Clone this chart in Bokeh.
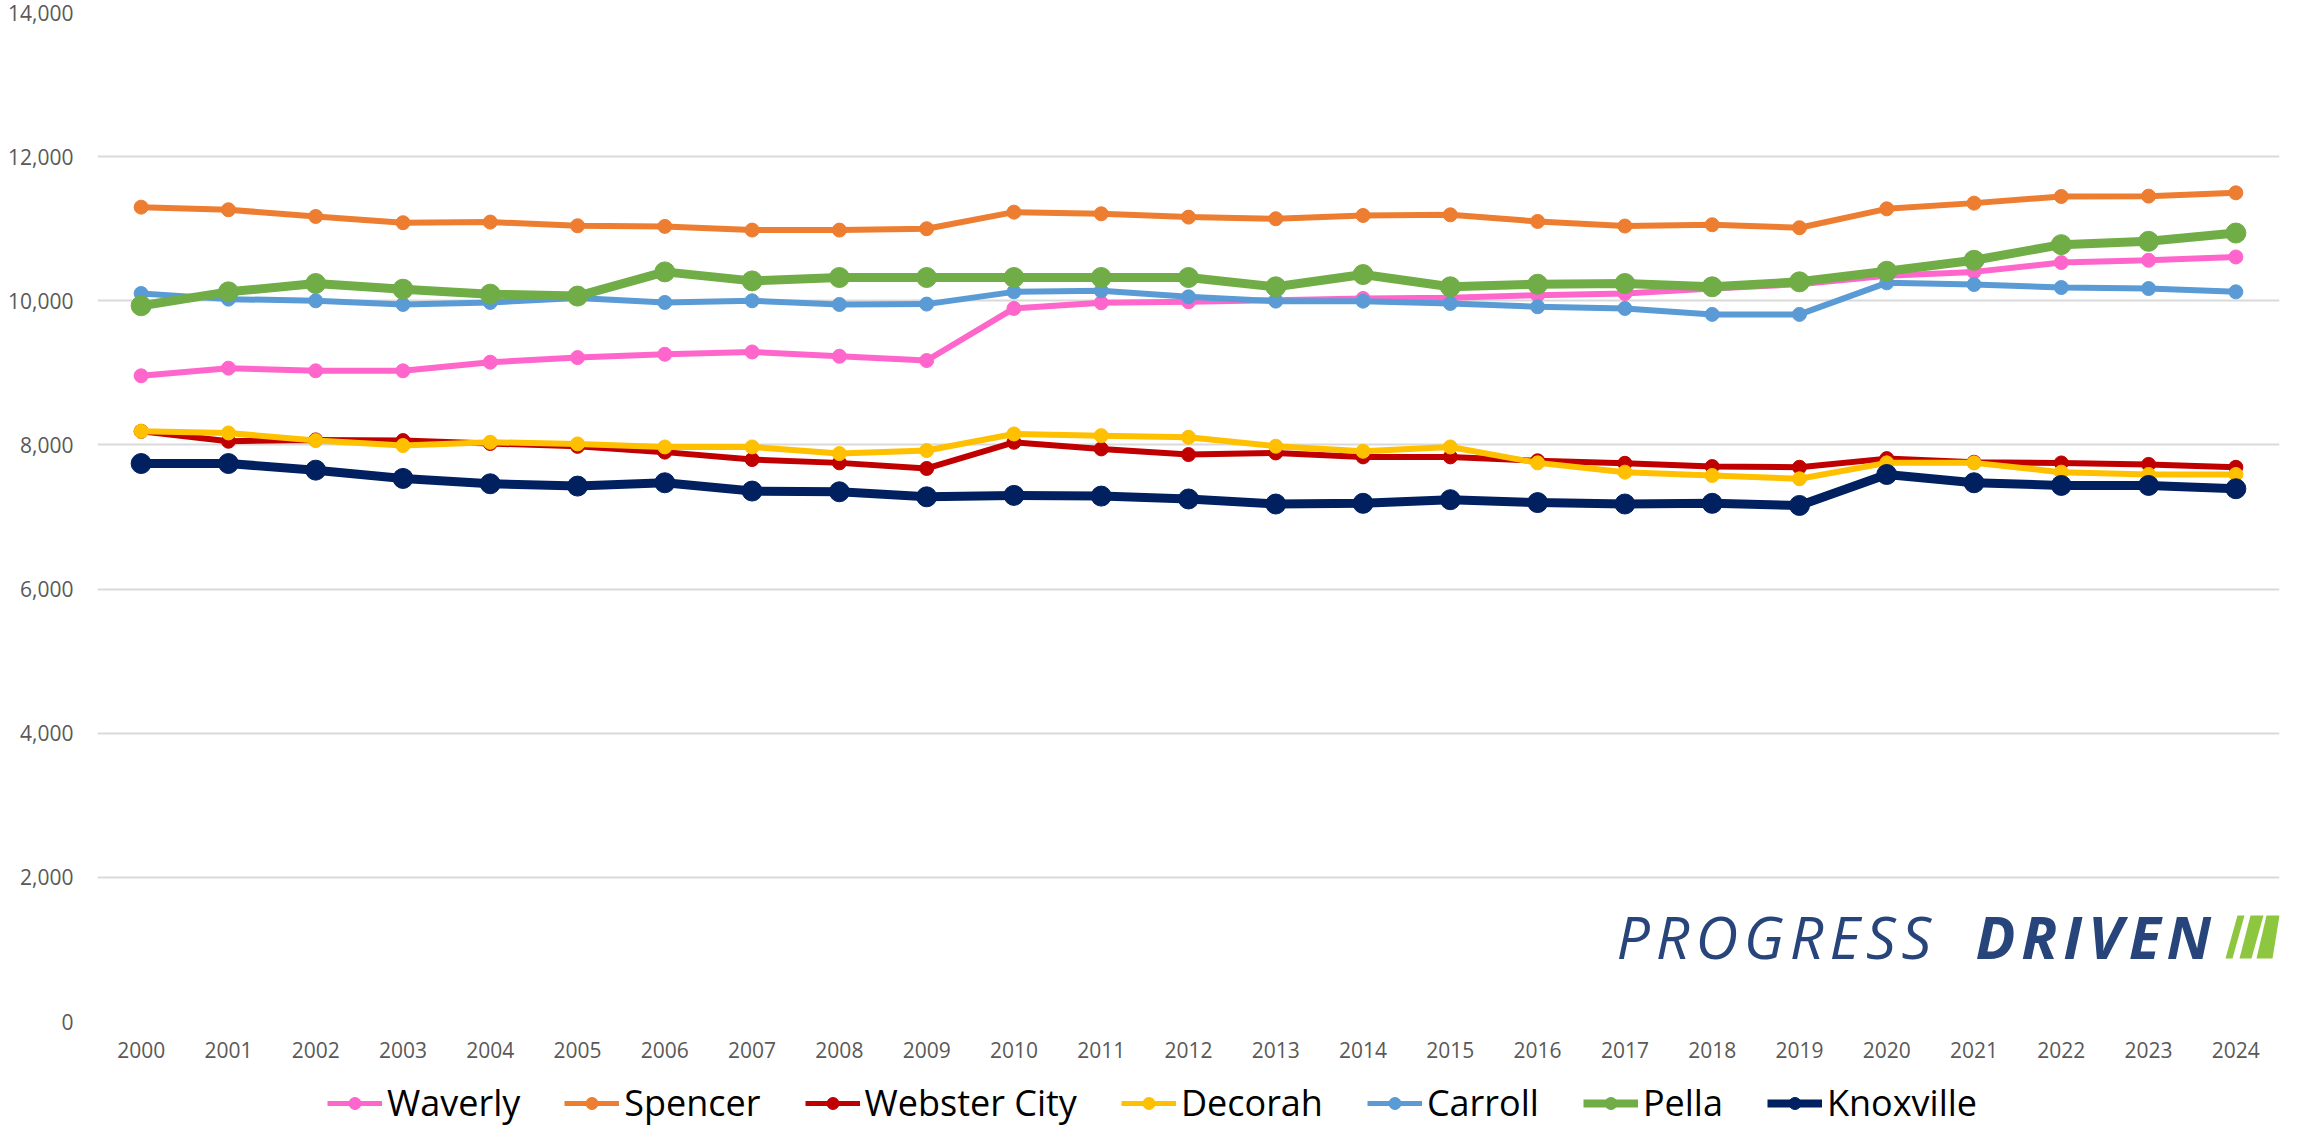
from bokeh.plotting import figure
from bokeh.layouts import column
from bokeh.models import (FactorRange, Range1d, NumeralTickFormatter, Legend, LegendItem,
                          Label, PolyAnnotation, SingleIntervalTicker)
from bokeh.embed import file_html
from bokeh.resources import INLINE

years = [str(y) for y in range(2000, 2025)]

waverly = [8959, 9065, 9028, 9028, 9148, 9212, 9258, 9290, 9230, 9171, 9894, 9972, 9986,
           10009, 10032, 10041, 10078, 10101, 10170, 10230, 10346, 10401, 10530, 10562, 10608]
spencer = [11299, 11263, 11170, 11083, 11092, 11041, 11032, 10981, 10981, 11000, 11230, 11207, 11161,
           11138, 11184, 11193, 11101, 11037, 11055, 11014, 11276, 11355, 11447, 11452, 11498]
webster_city = [8189, 8051, 8070, 8060, 8020, 7980, 7900, 7797, 7751, 7673, 8037, 7945, 7866,
                7889, 7834, 7834, 7780, 7745, 7700, 7690, 7810, 7760, 7750, 7730, 7690]
decorah = [8189, 8166, 8060, 7991, 8037, 8014, 7972, 7972, 7880, 7922, 8152, 8129, 8106,
           7982, 7912, 7972, 7751, 7622, 7576, 7530, 7751, 7751, 7622, 7590, 7590]
carroll = [10101, 10023, 10000, 9949, 9977, 10037, 9977, 10000, 9949, 9954, 10124, 10138, 10055,
           9995, 9995, 9963, 9917, 9894, 9811, 9811, 10249, 10226, 10184, 10170, 10124]
pella = [9931, 10124, 10240, 10161, 10092, 10065, 10401, 10276, 10323, 10323, 10323, 10323, 10323,
         10194, 10364, 10194, 10230, 10240, 10194, 10263, 10410, 10562, 10779, 10825, 10940]
knoxville = [7742, 7742, 7650, 7535, 7461, 7429, 7475, 7360, 7350, 7280, 7300, 7290, 7250,
             7180, 7190, 7240, 7200, 7180, 7190, 7160, 7590, 7475, 7438, 7438, 7392]

names = ["Waverly", "Spencer", "Webster City", "Decorah", "Carroll", "Pella", "Knoxville"]
values = [waverly, spencer, webster_city, decorah, carroll, pella, knoxville]
colors = ["#FF66CC", "#ED7D31", "#C00000", "#FFC000", "#5B9BD5", "#70AD47", "#002060"]
widths = [6, 6, 6, 6, 6, 9, 9]
sizes = [14, 14, 14, 14, 14, 20, 20]

W = 2285
LEG_H = 49

p = figure(width=W, height=1127 - LEG_H,
           x_range=FactorRange(*years), y_range=Range1d(0, 14000),
           output_backend="svg", toolbar_location=None,
           min_border_left=97, min_border_right=6, min_border_top=12,
           min_border_bottom=106 - LEG_H)
p.outline_line_color = None
p.background_fill_color = "white"

p.xgrid.grid_line_color = None
p.ygrid.grid_line_color = "#D9D9D9"
p.ygrid.grid_line_width = 2

p.yaxis.ticker = SingleIntervalTicker(interval=2000)
p.yaxis.formatter = NumeralTickFormatter(format="0,0")
for ax in (p.xaxis[0], p.yaxis[0]):
    ax.axis_line_color = None
    ax.major_tick_line_color = None
    ax.minor_tick_line_color = None
    ax.major_label_text_font = "Open Sans"
    ax.major_label_text_font_size = "21px"
    ax.major_label_text_color = "#595959"
p.yaxis.major_label_standoff = 18
p.xaxis.major_label_standoff = 14

for name, vals, c, w, s in zip(names, values, colors, widths, sizes):
    p.line(years, vals, line_color=c, line_width=w)
    p.scatter(years, vals, size=s, fill_color=c, line_color=c)

logo_color = "#27457A"
hair = "\u200a"
p.add_layout(Label(x=1519, y=86, x_units="screen", y_units="screen", text=hair.join("PROGRESS"),
                   text_font="Open Sans", text_font_style="italic", text_font_size="59px",
                   text_color=logo_color, text_baseline="alphabetic"))
p.add_layout(Label(x=1878, y=86, x_units="screen", y_units="screen", text=hair.join("DRIVEN"),
                   text_font="Open Sans", text_font_style="bold italic", text_font_size="59px",
                   text_color=logo_color, text_baseline="alphabetic"))
stripes = [
    ([2128, 2135, 2147, 2140], [63, 63, 106, 106]),
    ([2142, 2154, 2166, 2153], [63, 63, 106, 106]),
    ([2159, 2175, 2182, 2169], [63, 63, 106, 106]),
]
for xs, ys in stripes:
    p.add_layout(PolyAnnotation(xs=xs, ys=ys, xs_units="screen", ys_units="screen",
                                fill_color="#8DC63F", fill_alpha=1, line_color=None))

# legend strip underneath the chart (swatch renderers sit outside the visible range)
lg = figure(width=W, height=LEG_H, x_range=Range1d(0, 1), y_range=Range1d(0, 1),
            x_axis_type=None, y_axis_type=None, output_backend="svg", toolbar_location=None,
            min_border=0)
lg.outline_line_color = None
lg.grid.visible = False
leg_widths = [5, 5, 5, 5, 5, 8, 8]
leg_sizes = [11, 11, 11, 11, 11, 16, 16]
items = []
for name, c, w, s in zip(names, colors, leg_widths, leg_sizes):
    l = lg.line(x=[-10, -9], y=[-10, -10], line_color=c, line_width=w)
    m = lg.scatter(x=[-10], y=[-10], size=s, fill_color=c, line_color=c)
    items.append(LegendItem(label=name, renderers=[l, m]))
legend = Legend(items=items, orientation="horizontal", location=(230, 0),
                label_text_font="Open Sans", label_text_font_size="36px", label_text_color="black",
                glyph_width=55, glyph_height=30, spacing=44, label_standoff=5,
                border_line_color=None, background_fill_alpha=0, padding=0, margin=0)
lg.add_layout(legend, "center")

layout = column(p, lg, spacing=0)
open("out.html", "w").write(file_html(layout, INLINE))
